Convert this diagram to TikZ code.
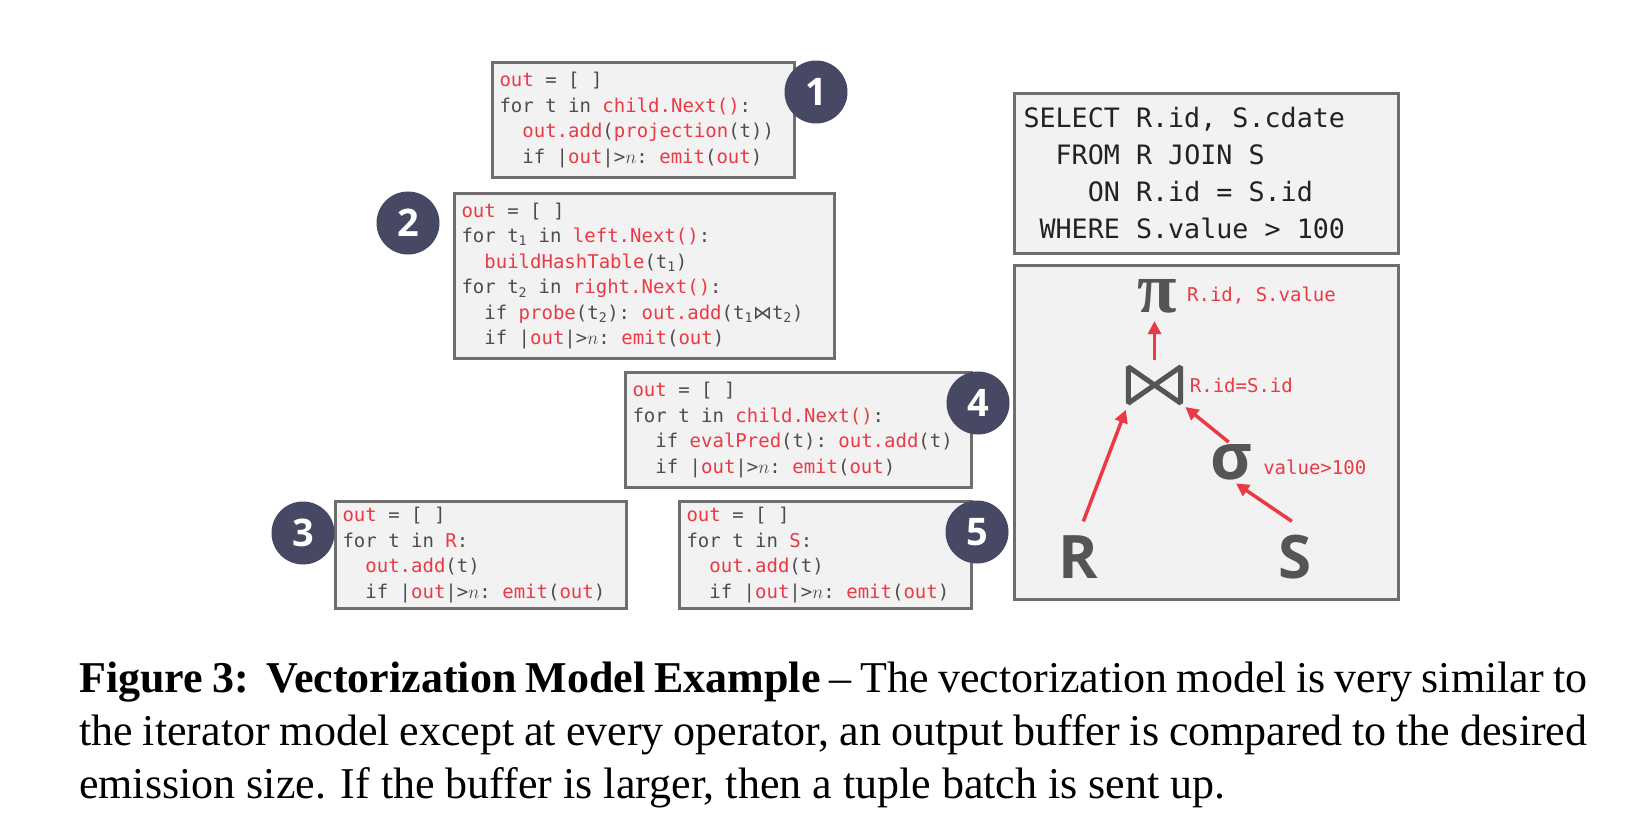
\documentclass[tikz,border=0pt]{standalone}
\usepackage{fix-cm}
\usepackage{fontspec}
\setmainfont{Liberation Serif}
\newfontfamily\codefont{DejaVu Sans Mono}
\newfontfamily\symfont{DejaVu Sans}
\newfontfamily\headsans{Open Sans}
\newfontfamily\capfont{Liberation Serif}
\usetikzlibrary{positioning,arrows.meta}

\definecolor{codered}{HTML}{E93A45}
\definecolor{codegray}{HTML}{4D4D4D}
\definecolor{sqltext}{HTML}{222222}
\definecolor{boxfill}{HTML}{F2F2F2}
\definecolor{boxline}{HTML}{6E6E6E}
\definecolor{dotfill}{HTML}{474864}
\definecolor{opgray}{HTML}{555555}

\newcommand{\rd}[1]{\textcolor{codered}{#1}}
\newcommand{\ind}{\phantom{xx}}
\newcommand{\sub}[1]{\textsubscript{#1}}
% full-width spaces for the code font (align=left would shrink them)
\newcommand{\monospace}{\frenchspacing\spaceskip=\fontcharwd\font`x\relax\xspaceskip=\spaceskip}

\tikzset{
	panel/.style={rectangle, draw=boxline, fill=boxfill, line width=3pt, anchor=north west},
	codebox/.style={panel, align=left, inner xsep=7pt, inner ysep=0pt, text=codegray, font={\codefont\fontsize{19}{25.5}\selectfont}, execute at begin node=\monospace},
	numdot/.style={circle, fill=dotfill, text=white, minimum size=63pt, inner sep=0pt, font={\headsans\bfseries\fontsize{38}{38}\selectfont}},
	opglyph/.style={inner sep=0pt, text=opgray},
	oplabel/.style={inner sep=0pt, text=codered, font={\codefont\fontsize{19}{19}\selectfont}, execute at begin node=\monospace},
	flow/.style={draw=codered, line width=3.5pt, -{Triangle[length=13pt,width=13pt]}}
}

\begin{document}
\begin{tikzpicture}[x=1pt,y=-1pt]
	\useasboundingbox (0,0) rectangle (1651,819);
	% operator code
	\node[codebox, minimum width=302pt, minimum height=115pt, text width=288pt] (b1) at (491,61)
		{\rd{out} = [ ]\\for t in \rd{child.Next()}:\\\ind\rd{out.add}(\rd{projection}(t))\\\ind if |\rd{out}|>$n$: \rd{emit}(\rd{out})};
	\node[codebox, minimum width=380pt, minimum height=165pt, text width=366pt] (b2) at (453,192)
		{\rd{out} = [ ]\\for t\sub{1} in \rd{left.Next()}:\\\ind\rd{buildHashTable}(t\sub{1})\\for t\sub{2} in \rd{right.Next()}:\\\ind if \rd{probe}(t\sub{2}): \rd{out.add}(t\sub{1}{\symfont ⋈}t\sub{2})\\\ind if |\rd{out}|>$n$: \rd{emit}(\rd{out})};
	\node[codebox, minimum width=346pt, minimum height=115pt, text width=332pt] (b4) at (624,371)
		{\rd{out} = [ ]\\for t in \rd{child.Next()}:\\\ind if \rd{evalPred}(t): \rd{out.add}(t)\\\ind if |\rd{out}|>$n$: \rd{emit}(\rd{out})};
	\node[codebox, minimum width=291pt, minimum height=107pt, text width=277pt] (b3) at (334,500)
		{\rd{out} = [ ]\\for t in \rd{R}:\\\ind\rd{out.add}(t)\\\ind if |\rd{out}|>$n$: \rd{emit}(\rd{out})};
	\node[codebox, minimum width=292pt, minimum height=107pt, text width=278pt] (b5) at (678,500)
		{\rd{out} = [ ]\\for t in \rd{S}:\\\ind\rd{out.add}(t)\\\ind if |\rd{out}|>$n$: \rd{emit}(\rd{out})};
	% step numbers
	\node[numdot] (c1) at ([shift={(20,31)}]b1.north east) {1};
	\node[numdot] (c2) at ([shift={(-45,31)}]b2.north west) {2};
	\node[numdot] (c3) at ([shift={(-31,33)}]b3.north west) {3};
	\node[numdot] (c4) at ([shift={(5,32)}]b4.north east) {4};
	\node[numdot] (c5) at ([shift={(4,32)}]b5.north east) {5};
	% query
	\node[panel, minimum width=384pt, minimum height=160pt, text width=366pt, inner xsep=9pt, inner ysep=0pt, align=left, text=sqltext, font={\codefont\fontsize{26.7}{37}\selectfont}, execute at begin node=\monospace] (sql) at (1013,92)
		{SELECT R.id, S.cdate\\\phantom{SE}FROM R JOIN S\\\phantom{SELE}ON R.id = S.id\\\phantom{S}WHERE S.value > 100};
	% plan
	\node[panel, minimum width=384pt, minimum height=334pt] (tree) at (1013,264) {};
	\node[opglyph, font={\bfseries\fontsize{72}{72}\selectfont}] (pi) at (1157,296) {π};
	\node[inner sep=0pt, minimum width=52pt, minimum height=36pt] (join) at (1154.5,385) {};
	\draw[opgray, line width=5pt, line join=bevel] (join.north west) -- (join.south west) -- (join.north east) -- (join.south east) -- cycle;
	\node[opglyph, font={\headsans\bfseries\fontsize{64}{64}\selectfont}] (sigma) at (1231,462) {σ};
	\node[opglyph, font={\headsans\bfseries\fontsize{60}{60}\selectfont}] (R) at (1078,557) {R};
	\node[opglyph, font={\headsans\bfseries\fontsize{60}{60}\selectfont}] (S) at (1295,557) {S};
	\node[oplabel, right=10pt of pi] (lpi) {R.id, S.value};
	\node[oplabel, right=9pt of join] (ljoin) {R.id=S.id};
	\node[oplabel, right=11pt of sigma, yshift=-5pt] (lsigma) {value>100};
	\draw[flow, shorten <=7pt, shorten >=8pt] (join.north) -- (join.north |- pi.south);
	\draw[flow, shorten <=15pt, shorten >=7pt] (R.north) -- (join.south west);
	\draw[flow, shorten <=3pt, shorten >=6pt] (sigma.north) -- (join.south east);
	\draw[flow, shorten <=24pt, shorten >=6pt] (S.north east) -- (sigma.south);
	% caption
	\node[anchor=north west, inner sep=0pt, text width=1508pt, align=justify, font={\capfont\fontsize{44}{53}\selectfont}] (caption) at (79,662)
		{\textbf{Figure 3:\hspace{0.4em}Vectorization Model Example} – The vectorization model is very similar to\linebreak the iterator model except at every operator, an output buffer is compared to the desired\linebreak emission size. If the buffer is larger, then a tuple batch is sent up.};
\end{tikzpicture}
\end{document}
